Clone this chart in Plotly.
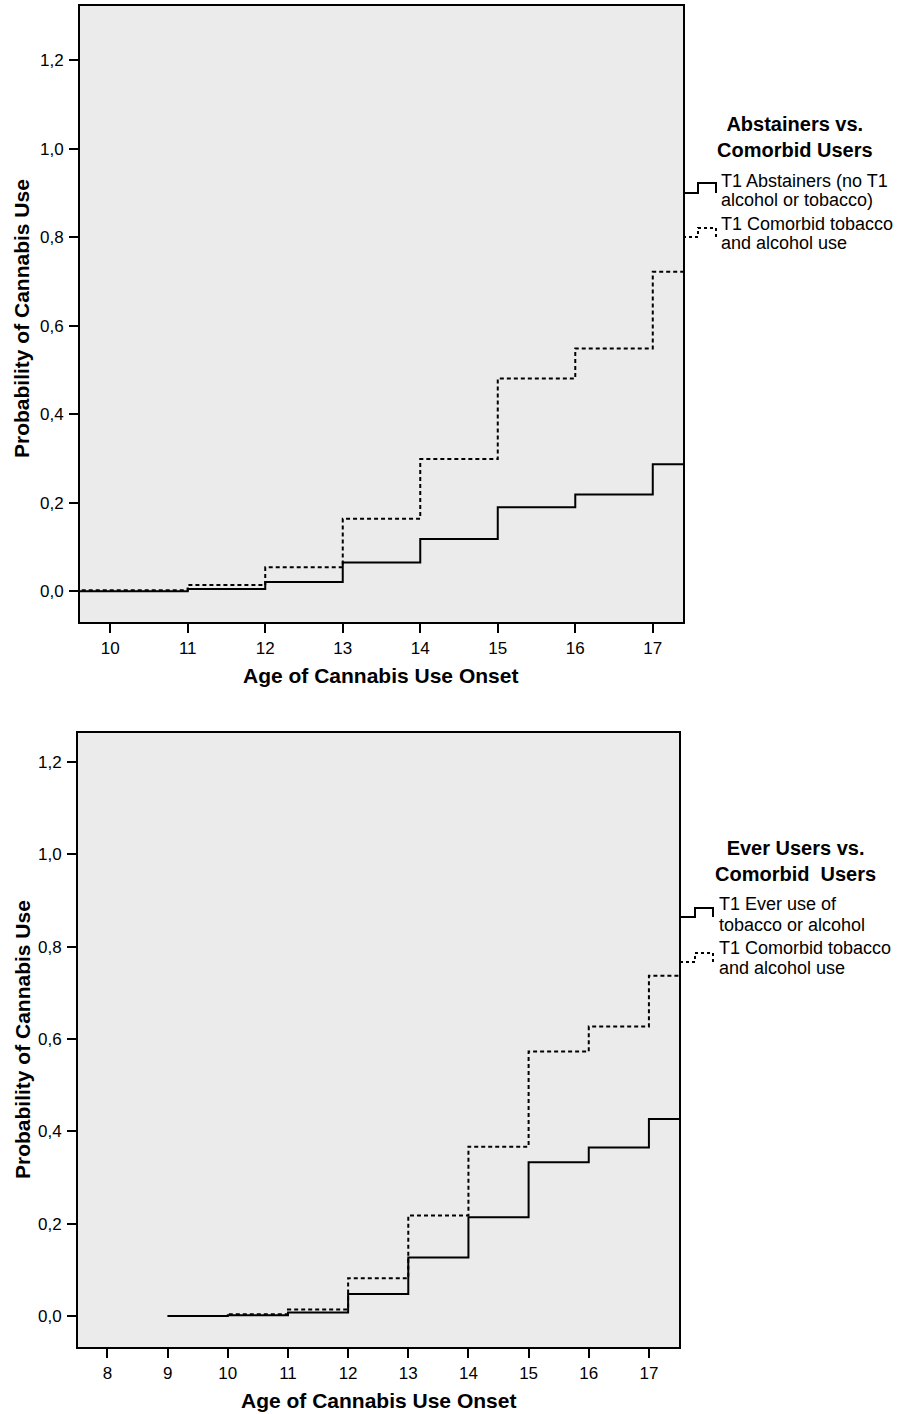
import plotly.graph_objects as go

# ---------------- data ----------------
top_ages = [9, 10, 11, 12, 13, 14, 15, 16, 17, 18]
top_abstainers = [0.0, 0.0, 0.005, 0.021, 0.065, 0.118, 0.19, 0.219, 0.287, 0.287]
top_comorbid = [0.002, 0.002, 0.014, 0.054, 0.164, 0.299, 0.481, 0.549, 0.722, 0.722]

bot_ages = [9, 10, 11, 12, 13, 14, 15, 16, 17, 18]
bot_ever = [0.0, 0.002, 0.008, 0.048, 0.127, 0.214, 0.333, 0.365, 0.427, 0.427]
bot_comorbid = [0.0, 0.004, 0.014, 0.082, 0.218, 0.367, 0.573, 0.627, 0.737, 0.737]

top_xticks = [10, 11, 12, 13, 14, 15, 16, 17]
bot_xticks = [8, 9, 10, 11, 12, 13, 14, 15, 16, 17]
yticks = [0.0, 0.2, 0.4, 0.6, 0.8, 1.0, 1.2]

top_legend_title = ["Abstainers vs.", "Comorbid Users"]
top_legend_items = [["T1 Abstainers (no T1", "alcohol or tobacco)"],
                    ["T1 Comorbid tobacco", "and alcohol use"]]
bot_legend_title = ["Ever Users vs.", "Comorbid  Users"]
bot_legend_items = [["T1 Ever use of", "tobacco or alcohol"],
                    ["T1 Comorbid tobacco", "and alcohol use"]]

x_title = "Age of Cannabis Use Onset"
y_title = "Probability of Cannabis Use"

# ---------------- layout helpers ----------------
W, H = 905, 1414
FONT = "Liberation Sans, Arial, sans-serif"


def px(x):
    return x / W


def py(y):
    return 1 - y / H


fig = go.Figure()

line_solid = dict(color="black", width=2, shape="hv")
line_dot = dict(color="black", width=2, shape="hv", dash="4px,3px")

fig.add_trace(go.Scatter(x=top_ages, y=top_abstainers, mode="lines", line=line_solid,
                         xaxis="x", yaxis="y", showlegend=False))
fig.add_trace(go.Scatter(x=top_ages, y=top_comorbid, mode="lines", line=line_dot,
                         xaxis="x", yaxis="y", showlegend=False))
fig.add_trace(go.Scatter(x=bot_ages, y=bot_ever, mode="lines", line=line_solid,
                         xaxis="x2", yaxis="y2", showlegend=False))
fig.add_trace(go.Scatter(x=bot_ages, y=bot_comorbid, mode="lines", line=line_dot,
                         xaxis="x2", yaxis="y2", showlegend=False))

axis_common = dict(showline=True, linecolor="black", linewidth=2, mirror=True,
                   ticks="outside", ticklen=9, tickwidth=2, tickcolor="black",
                   showgrid=False, zeroline=False,
                   tickfont=dict(family=FONT, size=17, color="black"))

fig.update_layout(
    width=W, height=H,
    margin=dict(l=0, r=0, t=0, b=0),
    paper_bgcolor="white",
    plot_bgcolor="#EBEBEB",
    separators=",.",
    xaxis=dict(domain=[px(80), px(683)], range=[9.61, 17.39], tickvals=top_xticks,
               anchor="y", ticklabelstandoff=1, **axis_common),
    yaxis=dict(domain=[py(622), py(6)], range=[-0.0695, 1.323], tickvals=yticks,
               tickformat=".1f", anchor="x", ticklabelstandoff=2, **axis_common),
    xaxis2=dict(domain=[px(78), px(679)], range=[7.51, 17.5], tickvals=bot_xticks,
                anchor="y2", ticklabelstandoff=1, **axis_common),
    yaxis2=dict(domain=[py(1347), py(733)], range=[-0.067, 1.263], tickvals=yticks,
                tickformat=".1f", anchor="x2", ticklabelstandoff=2, **axis_common),
)

annotations = []
title_font = dict(family=FONT, size=21, color="black")
legend_title_font = dict(family=FONT, size=20, color="black")
item_font = dict(family=FONT, size=18, color="black")

# axis titles
for cx, cy in [(380, 675), (378, 1400)]:
    annotations.append(dict(text="<b>%s</b>" % x_title, x=px(cx), y=py(cy), xref="paper", yref="paper",
                            xanchor="center", yanchor="middle", showarrow=False, font=title_font))
for cx, cy in [(22, 319), (22, 1040)]:
    annotations.append(dict(text="<b>%s</b>" % y_title, x=px(cx), y=py(cy), xref="paper", yref="paper",
                            xanchor="center", yanchor="middle", showarrow=False, font=title_font,
                            textangle=-90))

# legends
def add_legend(title, items, title_cx, title_cy, text_x, line_ys):
    annotations.append(dict(text="<b>%s</b>" % "<br>".join(title), x=px(title_cx), y=py(title_cy),
                            xref="paper", yref="paper", xanchor="center", yanchor="middle",
                            showarrow=False, font=legend_title_font, align="center"))
    for lines, ys in zip(items, line_ys):
        for t, yy in zip(lines, ys):
            annotations.append(dict(text=t, x=px(text_x), y=py(yy), xref="paper", yref="paper",
                                    xanchor="left", yanchor="middle", showarrow=False, font=item_font))


add_legend(top_legend_title, top_legend_items, 795, 137, 719, [(181, 200), (224, 243)])
add_legend(bot_legend_title, bot_legend_items, 795, 861, 717, [(904, 925), (948, 968)])

shapes = []


def step_symbol(x0, yb, yt, dash):
    path = "M %f,%f L %f,%f L %f,%f L %f,%f L %f,%f" % (
        px(x0), py(yb), px(x0 + 15), py(yb), px(x0 + 15), py(yt), px(x0 + 33), py(yt),
        px(x0 + 33), py(yb))
    return dict(type="path", path=path, xref="paper", yref="paper",
                line=dict(color="black", width=2, dash=dash))


shapes.append(step_symbol(683, 193, 183, "solid"))
shapes.append(step_symbol(683, 237, 228, "3px,3px"))
shapes.append(step_symbol(680, 917, 908, "solid"))
shapes.append(step_symbol(680, 962, 953, "3px,3px"))

fig.update_layout(annotations=annotations, shapes=shapes)

fig.write_html(
    "out.html",
    config={"displayModeBar": False},
    post_script="document.body.style.margin='0';document.body.style.padding='0';"
                "document.body.style.overflow='hidden';",
)
